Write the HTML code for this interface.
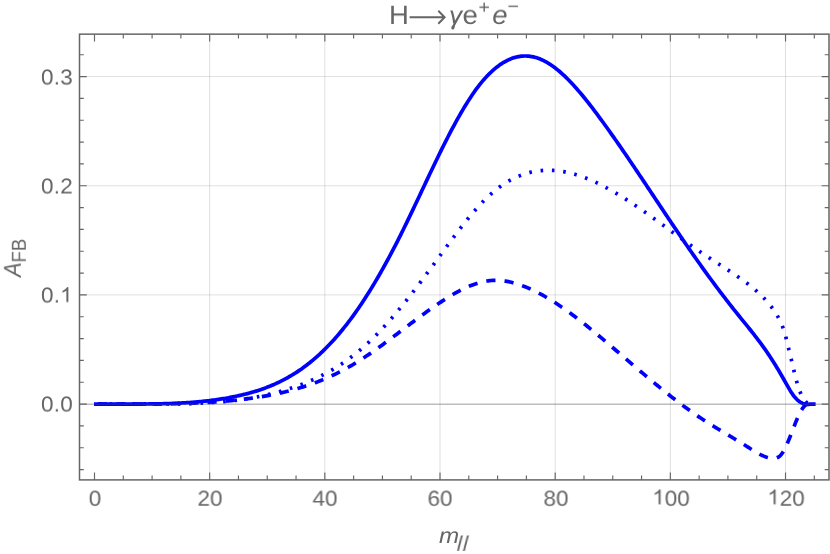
<!DOCTYPE html><html><head><meta charset="utf-8"><title>chart</title><style>
html,body{margin:0;padding:0;background:#fff}
#c{position:relative;width:830px;height:554px;overflow:hidden;background:#fff;font-family:"Liberation Sans",sans-serif;color:#666666}
.t{position:absolute;white-space:nowrap;line-height:1;will-change:transform;text-rendering:geometricPrecision}
.xl{font-size:22.5px;transform:translateX(-50%) scaleY(0.96);top:488.1px}
.yl{font-size:22.5px;letter-spacing:0.25px;transform:translateY(-50%) scaleY(0.96);right:757.4px;text-align:right}
</style></head><body><div id="c">
<svg width="830" height="554" viewBox="0 0 830 554" style="position:absolute;left:0;top:0">
<rect width="830" height="554" fill="#fff"/>
<path d="M209.67 34.15 V479.9 M324.84 34.15 V479.9 M440.01 34.15 V479.9 M555.18 34.15 V479.9 M670.35 34.15 V479.9 M785.52 34.15 V479.9" stroke="#666" stroke-opacity="0.21" stroke-width="1" fill="none"/>
<path d="M79.5 404.10 H829.0 M79.5 294.92 H829.0 M79.5 185.74 H829.0 M79.5 76.56 H829.0" stroke="#666" stroke-opacity="0.2" stroke-width="1" fill="none"/>
<path d="M94.00 404.10 L95.94 404.10 L97.39 404.10 L98.83 404.10 L100.27 404.10 L101.71 404.10 L103.16 404.10 L104.60 404.10 L106.04 404.10 L107.48 404.10 L108.93 404.10 L110.37 404.09 L111.81 404.09 L113.25 404.09 L114.70 404.08 L116.14 404.08 L117.58 404.08 L119.02 404.08 L120.47 404.08 L121.91 404.07 L123.35 404.07 L124.79 404.07 L126.24 404.07 L127.68 404.07 L129.12 404.07 L130.56 404.07 L132.01 404.07 L133.45 404.07 L134.89 404.07 L136.33 404.07 L137.78 404.07 L139.22 404.07 L140.66 404.06 L142.10 404.06 L143.55 404.06 L144.99 404.05 L146.43 404.05 L147.87 404.04 L149.32 404.04 L150.76 404.03 L152.20 404.02 L153.64 404.01 L155.09 404.00 L156.53 403.99 L157.97 403.98 L159.41 403.96 L160.86 403.95 L162.30 403.93 L163.74 403.91 L165.18 403.89 L166.63 403.87 L168.07 403.85 L169.51 403.83 L170.95 403.80 L172.40 403.77 L173.84 403.74 L175.28 403.71 L176.72 403.68 L178.17 403.64 L179.61 403.61 L181.05 403.57 L182.49 403.53 L183.94 403.49 L185.38 403.44 L186.82 403.39 L188.26 403.34 L189.71 403.29 L191.15 403.24 L192.59 403.18 L194.03 403.12 L195.48 403.06 L196.92 403.00 L198.36 402.93 L199.80 402.86 L201.25 402.79 L202.69 402.71 L204.13 402.64 L205.57 402.55 L207.02 402.47 L208.46 402.38 L209.90 402.29 L211.34 402.20 L212.79 402.11 L214.23 402.01 L215.67 401.90 L217.11 401.80 L218.56 401.69 L220.00 401.58 L221.44 401.46 L222.88 401.34 L224.33 401.22 L225.77 401.09 L227.21 400.96 L228.65 400.83 L230.10 400.69 L231.54 400.55 L232.98 400.40 L234.42 400.25 L235.87 400.10 L237.31 399.94 L238.75 399.78 L240.19 399.61 L241.64 399.44 L243.08 399.27 L244.52 399.09 L245.96 398.91 L247.41 398.72 L248.85 398.53 L250.29 398.33 L251.73 398.13 L253.18 397.93 L254.62 397.72 L256.06 397.50 L257.50 397.28 L258.95 397.05 L260.39 396.82 L261.83 396.59 L263.27 396.34 L264.72 396.09 L266.16 395.84 L267.60 395.58 L269.04 395.31 L270.49 395.04 L271.93 394.76 L273.37 394.47 L274.81 394.18 L276.26 393.88 L277.70 393.57 L279.14 393.26 L280.58 392.93 L282.03 392.61 L283.47 392.27 L284.91 391.93 L286.35 391.57 L287.80 391.21 L289.24 390.85 L290.68 390.47 L292.12 390.09 L293.57 389.69 L295.01 389.29 L296.45 388.88 L297.89 388.46 L299.34 388.03 L300.78 387.60 L302.22 387.15 L303.66 386.70 L305.11 386.23 L306.55 385.76 L307.99 385.27 L309.43 384.78 L310.88 384.28 L312.32 383.76 L313.76 383.24 L315.20 382.70 L316.65 382.16 L318.09 381.60 L319.53 381.04 L320.97 380.46 L322.42 379.87 L323.86 379.27 L325.30 378.66 L326.74 378.04 L328.19 377.41 L329.63 376.76 L331.07 376.10 L332.51 375.43 L333.96 374.75 L335.40 374.06 L336.84 373.36 L338.28 372.64 L339.73 371.91 L341.17 371.17 L342.61 370.41 L344.05 369.64 L345.50 368.86 L346.94 368.07 L348.38 367.26 L349.82 366.44 L351.27 365.60 L352.71 364.75 L354.15 363.89 L355.59 363.01 L357.04 362.13 L358.48 361.23 L359.92 360.31 L361.36 359.39 L362.81 358.45 L364.25 357.51 L365.69 356.55 L367.13 355.58 L368.58 354.61 L370.02 353.62 L371.46 352.63 L372.90 351.63 L374.35 350.61 L375.79 349.60 L377.23 348.57 L378.67 347.54 L380.12 346.50 L381.56 345.45 L383.00 344.40 L384.44 343.34 L385.89 342.28 L387.33 341.22 L388.77 340.15 L390.21 339.07 L391.66 337.99 L393.10 336.91 L394.54 335.83 L395.98 334.74 L397.43 333.66 L398.87 332.57 L400.31 331.48 L401.75 330.39 L403.20 329.30 L404.64 328.21 L406.08 327.12 L407.52 326.03 L408.97 324.94 L410.41 323.85 L411.85 322.77 L413.29 321.68 L414.74 320.60 L416.18 319.53 L417.62 318.46 L419.06 317.39 L420.51 316.32 L421.95 315.26 L423.39 314.21 L424.83 313.16 L426.28 312.12 L427.72 311.08 L429.16 310.05 L430.60 309.03 L432.05 308.01 L433.49 307.01 L434.93 306.01 L436.37 305.02 L437.82 304.03 L439.26 303.06 L440.70 302.10 L442.14 301.15 L443.59 300.21 L445.03 299.28 L446.47 298.36 L447.91 297.46 L449.36 296.57 L450.80 295.70 L452.24 294.84 L453.68 294.00 L455.13 293.17 L456.57 292.37 L458.01 291.58 L459.46 290.81 L460.90 290.06 L462.34 289.34 L463.78 288.64 L465.23 287.96 L466.67 287.30 L468.11 286.67 L469.55 286.06 L471.00 285.48 L472.44 284.92 L473.88 284.40 L475.32 283.90 L476.77 283.43 L478.21 282.99 L479.65 282.58 L481.09 282.21 L482.54 281.86 L483.98 281.55 L485.42 281.28 L486.86 281.03 L488.31 280.83 L489.75 280.66 L491.19 280.52 L492.63 280.43 L494.08 280.37 L495.52 280.35 L496.96 280.36 L498.40 280.41 L499.85 280.50 L501.29 280.61 L502.73 280.77 L504.17 280.95 L505.62 281.16 L507.06 281.41 L508.50 281.68 L509.94 281.98 L511.39 282.32 L512.83 282.68 L514.27 283.06 L515.71 283.48 L517.16 283.91 L518.60 284.38 L520.04 284.87 L521.48 285.38 L522.93 285.91 L524.37 286.47 L525.81 287.04 L527.25 287.64 L528.70 288.26 L530.14 288.89 L531.58 289.55 L533.02 290.22 L534.47 290.91 L535.91 291.62 L537.35 292.35 L538.79 293.10 L540.24 293.86 L541.68 294.64 L543.12 295.44 L544.56 296.25 L546.01 297.08 L547.45 297.93 L548.89 298.79 L550.33 299.66 L551.78 300.55 L553.22 301.46 L554.66 302.38 L556.10 303.31 L557.55 304.26 L558.99 305.22 L560.43 306.19 L561.87 307.18 L563.32 308.18 L564.76 309.19 L566.20 310.21 L567.64 311.24 L569.09 312.29 L570.53 313.34 L571.97 314.41 L573.41 315.48 L574.86 316.57 L576.30 317.66 L577.74 318.77 L579.18 319.88 L580.63 321.00 L582.07 322.14 L583.51 323.27 L584.95 324.42 L586.40 325.57 L587.84 326.74 L589.28 327.90 L590.72 329.08 L592.17 330.26 L593.61 331.44 L595.05 332.64 L596.49 333.83 L597.94 335.04 L599.38 336.24 L600.82 337.45 L602.26 338.67 L603.71 339.89 L605.15 341.11 L606.59 342.34 L608.03 343.57 L609.48 344.80 L610.92 346.03 L612.36 347.26 L613.80 348.50 L615.25 349.74 L616.69 350.98 L618.13 352.22 L619.57 353.46 L621.02 354.70 L622.46 355.94 L623.90 357.18 L625.34 358.42 L626.79 359.66 L628.23 360.90 L629.67 362.14 L631.11 363.37 L632.56 364.61 L634.00 365.84 L635.44 367.08 L636.88 368.31 L638.33 369.54 L639.77 370.76 L641.21 371.99 L642.65 373.21 L644.10 374.43 L645.54 375.65 L646.98 376.86 L648.42 378.07 L649.87 379.28 L651.31 380.48 L652.75 381.68 L654.19 382.87 L655.64 384.06 L657.08 385.25 L658.52 386.43 L659.96 387.61 L661.41 388.78 L662.85 389.95 L664.29 391.11 L665.73 392.26 L667.18 393.41 L668.62 394.56 L670.06 395.69 L671.50 396.83 L672.95 397.95 L674.39 399.07 L675.83 400.18 L677.27 401.28 L678.72 402.38 L680.16 403.47 L681.60 404.55 L683.04 405.62 L684.49 406.69 L685.93 407.74 L687.37 408.79 L688.81 409.83 L690.26 410.86 L691.70 411.89 L693.14 412.90 L694.58 413.90 L696.03 414.90 L697.47 415.88 L698.91 416.85 L700.35 417.82 L701.80 418.77 L703.24 419.71 L704.68 420.65 L706.12 421.57 L707.57 422.49 L709.01 423.40 L710.45 424.30 L711.89 425.20 L713.34 426.08 L714.78 426.97 L716.22 427.85 L717.66 428.72 L719.11 429.59 L720.55 430.46 L721.99 431.33 L723.43 432.19 L724.88 433.05 L726.32 433.91 L727.76 434.77 L729.20 435.63 L730.65 436.50 L732.09 437.36 L733.53 438.23 L734.97 439.09 L736.42 439.97 L737.86 440.84 L739.30 441.72 L740.74 442.61 L742.19 443.50 L743.63 444.39 L745.07 445.30 L746.51 446.21 L747.96 447.13 L749.40 448.05 L750.84 448.97 L752.28 449.89 L753.73 450.79 L755.17 451.66 L756.61 452.52 L758.05 453.33 L759.50 454.11 L760.94 454.84 L762.38 455.52 L763.82 456.14 L765.27 456.70 L766.71 457.18 L768.15 457.58 L769.59 457.90 L771.04 458.12 L772.48 458.25 L773.92 458.28 L775.36 458.16 L776.81 457.83 L778.25 457.20 L779.69 456.19 L781.13 454.72 L782.58 452.75 L784.02 450.32 L785.46 447.51 L786.90 444.39 L788.35 441.01 L789.79 437.45 L791.23 433.76 L792.67 430.03 L794.12 426.31 L795.56 422.68 L797.00 419.19 L798.44 415.91 L799.89 412.92 L801.33 410.28 L802.77 408.05 L804.21 406.29 L805.66 404.99 L807.10 404.10 L808.54 403.58 L809.98 404.10 L811.43 404.10 L812.87 404.10 L815.61 404.10" stroke="#0000ff" stroke-width="3.7" fill="none" stroke-dasharray="9.2 9.049523893575035" stroke-dashoffset="14.27" stroke-linejoin="round"/>
<path d="M94.00 404.10 L95.94 404.10 L97.39 404.10 L98.83 404.10 L100.27 404.10 L101.71 404.10 L103.16 404.10 L104.60 404.10 L106.04 404.10 L107.48 404.09 L108.93 404.08 L110.37 404.07 L111.81 404.05 L113.25 404.03 L114.70 404.02 L116.14 404.00 L117.58 403.98 L119.02 403.96 L120.47 403.94 L121.91 403.92 L123.35 403.91 L124.79 403.89 L126.24 403.87 L127.68 403.86 L129.12 403.85 L130.56 403.85 L132.01 403.85 L133.45 403.86 L134.89 403.86 L136.33 403.87 L137.78 403.88 L139.22 403.88 L140.66 403.89 L142.10 403.90 L143.55 403.91 L144.99 403.91 L146.43 403.92 L147.87 403.93 L149.32 403.93 L150.76 403.94 L152.20 403.94 L153.64 403.95 L155.09 403.95 L156.53 403.96 L157.97 403.96 L159.41 403.96 L160.86 403.96 L162.30 403.96 L163.74 403.96 L165.18 403.96 L166.63 403.95 L168.07 403.95 L169.51 403.94 L170.95 403.93 L172.40 403.92 L173.84 403.91 L175.28 403.89 L176.72 403.88 L178.17 403.86 L179.61 403.84 L181.05 403.81 L182.49 403.79 L183.94 403.76 L185.38 403.73 L186.82 403.69 L188.26 403.66 L189.71 403.62 L191.15 403.58 L192.59 403.53 L194.03 403.48 L195.48 403.43 L196.92 403.38 L198.36 403.32 L199.80 403.26 L201.25 403.19 L202.69 403.12 L204.13 403.05 L205.57 402.97 L207.02 402.89 L208.46 402.80 L209.90 402.72 L211.34 402.62 L212.79 402.52 L214.23 402.42 L215.67 402.32 L217.11 402.20 L218.56 402.09 L220.00 401.97 L221.44 401.84 L222.88 401.71 L224.33 401.57 L225.77 401.43 L227.21 401.29 L228.65 401.14 L230.10 400.98 L231.54 400.82 L232.98 400.65 L234.42 400.47 L235.87 400.29 L237.31 400.11 L238.75 399.92 L240.19 399.72 L241.64 399.52 L243.08 399.31 L244.52 399.09 L245.96 398.87 L247.41 398.64 L248.85 398.40 L250.29 398.16 L251.73 397.91 L253.18 397.65 L254.62 397.39 L256.06 397.12 L257.50 396.84 L258.95 396.55 L260.39 396.26 L261.83 395.96 L263.27 395.65 L264.72 395.34 L266.16 395.02 L267.60 394.69 L269.04 394.35 L270.49 394.00 L271.93 393.65 L273.37 393.28 L274.81 392.91 L276.26 392.53 L277.70 392.14 L279.14 391.75 L280.58 391.34 L282.03 390.93 L283.47 390.51 L284.91 390.07 L286.35 389.63 L287.80 389.18 L289.24 388.72 L290.68 388.26 L292.12 387.78 L293.57 387.29 L295.01 386.79 L296.45 386.29 L297.89 385.77 L299.34 385.24 L300.78 384.70 L302.22 384.15 L303.66 383.59 L305.11 383.02 L306.55 382.43 L307.99 381.84 L309.43 381.23 L310.88 380.60 L312.32 379.97 L313.76 379.32 L315.20 378.66 L316.65 377.99 L318.09 377.30 L319.53 376.59 L320.97 375.88 L322.42 375.14 L323.86 374.40 L325.30 373.64 L326.74 372.86 L328.19 372.06 L329.63 371.26 L331.07 370.43 L332.51 369.59 L333.96 368.73 L335.40 367.85 L336.84 366.96 L338.28 366.05 L339.73 365.12 L341.17 364.18 L342.61 363.21 L344.05 362.23 L345.50 361.23 L346.94 360.21 L348.38 359.17 L349.82 358.11 L351.27 357.03 L352.71 355.93 L354.15 354.81 L355.59 353.67 L357.04 352.51 L358.48 351.33 L359.92 350.12 L361.36 348.90 L362.81 347.65 L364.25 346.38 L365.69 345.09 L367.13 343.78 L368.58 342.44 L370.02 341.08 L371.46 339.70 L372.90 338.30 L374.35 336.87 L375.79 335.42 L377.23 333.95 L378.67 332.46 L380.12 330.95 L381.56 329.42 L383.00 327.87 L384.44 326.31 L385.89 324.72 L387.33 323.11 L388.77 321.49 L390.21 319.85 L391.66 318.19 L393.10 316.52 L394.54 314.83 L395.98 313.13 L397.43 311.41 L398.87 309.67 L400.31 307.92 L401.75 306.16 L403.20 304.38 L404.64 302.59 L406.08 300.78 L407.52 298.97 L408.97 297.14 L410.41 295.30 L411.85 293.45 L413.29 291.59 L414.74 289.71 L416.18 287.83 L417.62 285.94 L419.06 284.04 L420.51 282.13 L421.95 280.21 L423.39 278.29 L424.83 276.35 L426.28 274.41 L427.72 272.47 L429.16 270.51 L430.60 268.56 L432.05 266.59 L433.49 264.62 L434.93 262.65 L436.37 260.67 L437.82 258.69 L439.26 256.71 L440.70 254.73 L442.14 252.75 L443.59 250.77 L445.03 248.79 L446.47 246.82 L447.91 244.85 L449.36 242.89 L450.80 240.93 L452.24 238.99 L453.68 237.05 L455.13 235.13 L456.57 233.22 L458.01 231.32 L459.46 229.43 L460.90 227.56 L462.34 225.71 L463.78 223.87 L465.23 222.05 L466.67 220.25 L468.11 218.47 L469.55 216.72 L471.00 214.99 L472.44 213.28 L473.88 211.59 L475.32 209.94 L476.77 208.31 L478.21 206.71 L479.65 205.14 L481.09 203.60 L482.54 202.09 L483.98 200.61 L485.42 199.17 L486.86 197.77 L488.31 196.40 L489.75 195.07 L491.19 193.78 L492.63 192.52 L494.08 191.31 L495.52 190.13 L496.96 188.99 L498.40 187.88 L499.85 186.82 L501.29 185.79 L502.73 184.80 L504.17 183.84 L505.62 182.92 L507.06 182.03 L508.50 181.18 L509.94 180.36 L511.39 179.58 L512.83 178.84 L514.27 178.12 L515.71 177.44 L517.16 176.79 L518.60 176.18 L520.04 175.60 L521.48 175.05 L522.93 174.53 L524.37 174.04 L525.81 173.59 L527.25 173.16 L528.70 172.77 L530.14 172.40 L531.58 172.07 L533.02 171.76 L534.47 171.49 L535.91 171.24 L537.35 171.02 L538.79 170.83 L540.24 170.67 L541.68 170.54 L543.12 170.43 L544.56 170.35 L546.01 170.30 L547.45 170.27 L548.89 170.27 L550.33 170.29 L551.78 170.34 L553.22 170.42 L554.66 170.52 L556.10 170.64 L557.55 170.79 L558.99 170.96 L560.43 171.15 L561.87 171.37 L563.32 171.61 L564.76 171.88 L566.20 172.16 L567.64 172.47 L569.09 172.80 L570.53 173.15 L571.97 173.52 L573.41 173.91 L574.86 174.32 L576.30 174.75 L577.74 175.20 L579.18 175.67 L580.63 176.16 L582.07 176.66 L583.51 177.19 L584.95 177.73 L586.40 178.29 L587.84 178.87 L589.28 179.46 L590.72 180.07 L592.17 180.70 L593.61 181.34 L595.05 182.00 L596.49 182.68 L597.94 183.36 L599.38 184.07 L600.82 184.79 L602.26 185.52 L603.71 186.27 L605.15 187.03 L606.59 187.80 L608.03 188.59 L609.48 189.39 L610.92 190.20 L612.36 191.02 L613.80 191.86 L615.25 192.70 L616.69 193.56 L618.13 194.43 L619.57 195.31 L621.02 196.20 L622.46 197.10 L623.90 198.00 L625.34 198.92 L626.79 199.85 L628.23 200.79 L629.67 201.73 L631.11 202.68 L632.56 203.64 L634.00 204.61 L635.44 205.58 L636.88 206.57 L638.33 207.55 L639.77 208.55 L641.21 209.55 L642.65 210.55 L644.10 211.56 L645.54 212.58 L646.98 213.60 L648.42 214.63 L649.87 215.66 L651.31 216.69 L652.75 217.73 L654.19 218.77 L655.64 219.81 L657.08 220.85 L658.52 221.90 L659.96 222.95 L661.41 224.00 L662.85 225.06 L664.29 226.11 L665.73 227.16 L667.18 228.22 L668.62 229.27 L670.06 230.33 L671.50 231.38 L672.95 232.44 L674.39 233.49 L675.83 234.54 L677.27 235.59 L678.72 236.64 L680.16 237.68 L681.60 238.73 L683.04 239.77 L684.49 240.80 L685.93 241.84 L687.37 242.87 L688.81 243.89 L690.26 244.91 L691.70 245.93 L693.14 246.94 L694.58 247.95 L696.03 248.95 L697.47 249.94 L698.91 250.93 L700.35 251.91 L701.80 252.89 L703.24 253.85 L704.68 254.82 L706.12 255.77 L707.57 256.72 L709.01 257.67 L710.45 258.62 L711.89 259.56 L713.34 260.50 L714.78 261.43 L716.22 262.37 L717.66 263.30 L719.11 264.24 L720.55 265.18 L721.99 266.11 L723.43 267.05 L724.88 267.99 L726.32 268.94 L727.76 269.89 L729.20 270.84 L730.65 271.80 L732.09 272.76 L733.53 273.73 L734.97 274.70 L736.42 275.68 L737.86 276.67 L739.30 277.67 L740.74 278.68 L742.19 279.70 L743.63 280.74 L745.07 281.79 L746.51 282.86 L747.96 283.96 L749.40 285.08 L750.84 286.22 L752.28 287.39 L753.73 288.59 L755.17 289.83 L756.61 291.10 L758.05 292.41 L759.50 293.76 L760.94 295.15 L762.38 296.58 L763.82 298.06 L765.27 299.59 L766.71 301.17 L768.15 302.82 L769.59 304.56 L771.04 306.38 L772.48 308.32 L773.92 310.38 L775.36 312.57 L776.81 314.90 L778.25 317.40 L779.69 320.10 L781.13 323.13 L782.58 326.62 L784.02 330.71 L785.46 335.53 L786.90 341.19 L788.35 347.35 L789.79 353.29 L791.23 359.16 L792.67 365.29 L794.12 371.47 L795.56 377.42 L797.00 382.85 L798.44 387.55 L799.89 391.57 L801.33 394.95 L802.77 397.72 L804.21 399.95 L805.66 401.67 L807.10 402.94 L808.54 403.79 L809.98 404.10 L811.43 404.10 L812.87 404.10 L815.61 404.10" stroke="#0000ff" stroke-width="3.7" fill="none" stroke-dasharray="2.6 8.751033861102023" stroke-dashoffset="7.03" stroke-linejoin="round"/>
<path d="M94.00 404.10 L95.94 404.10 L97.39 404.10 L98.83 404.10 L100.27 404.10 L101.71 404.10 L103.16 404.10 L104.60 404.10 L106.04 404.10 L107.48 404.10 L108.93 404.09 L110.37 404.09 L111.81 404.08 L113.25 404.08 L114.70 404.07 L116.14 404.07 L117.58 404.06 L119.02 404.06 L120.47 404.05 L121.91 404.05 L123.35 404.05 L124.79 404.05 L126.24 404.04 L127.68 404.04 L129.12 404.04 L130.56 404.04 L132.01 404.04 L133.45 404.04 L134.89 404.04 L136.33 404.04 L137.78 404.03 L139.22 404.03 L140.66 404.02 L142.10 404.02 L143.55 404.01 L144.99 404.00 L146.43 403.99 L147.87 403.98 L149.32 403.97 L150.76 403.95 L152.20 403.93 L153.64 403.91 L155.09 403.89 L156.53 403.87 L157.97 403.84 L159.41 403.82 L160.86 403.79 L162.30 403.75 L163.74 403.72 L165.18 403.68 L166.63 403.64 L168.07 403.59 L169.51 403.54 L170.95 403.49 L172.40 403.44 L173.84 403.38 L175.28 403.32 L176.72 403.25 L178.17 403.19 L179.61 403.11 L181.05 403.04 L182.49 402.96 L183.94 402.87 L185.38 402.79 L186.82 402.69 L188.26 402.60 L189.71 402.49 L191.15 402.39 L192.59 402.28 L194.03 402.16 L195.48 402.04 L196.92 401.92 L198.36 401.79 L199.80 401.65 L201.25 401.51 L202.69 401.36 L204.13 401.21 L205.57 401.06 L207.02 400.89 L208.46 400.72 L209.90 400.55 L211.34 400.37 L212.79 400.18 L214.23 399.99 L215.67 399.79 L217.11 399.59 L218.56 399.37 L220.00 399.15 L221.44 398.93 L222.88 398.70 L224.33 398.46 L225.77 398.21 L227.21 397.96 L228.65 397.70 L230.10 397.43 L231.54 397.16 L232.98 396.88 L234.42 396.59 L235.87 396.29 L237.31 395.99 L238.75 395.67 L240.19 395.35 L241.64 395.02 L243.08 394.67 L244.52 394.32 L245.96 393.96 L247.41 393.59 L248.85 393.21 L250.29 392.81 L251.73 392.40 L253.18 391.99 L254.62 391.56 L256.06 391.11 L257.50 390.66 L258.95 390.19 L260.39 389.71 L261.83 389.21 L263.27 388.70 L264.72 388.18 L266.16 387.64 L267.60 387.09 L269.04 386.52 L270.49 385.93 L271.93 385.33 L273.37 384.71 L274.81 384.08 L276.26 383.42 L277.70 382.76 L279.14 382.07 L280.58 381.36 L282.03 380.64 L283.47 379.90 L284.91 379.14 L286.35 378.35 L287.80 377.55 L289.24 376.73 L290.68 375.89 L292.12 375.03 L293.57 374.15 L295.01 373.24 L296.45 372.32 L297.89 371.37 L299.34 370.40 L300.78 369.40 L302.22 368.39 L303.66 367.35 L305.11 366.28 L306.55 365.20 L307.99 364.08 L309.43 362.95 L310.88 361.79 L312.32 360.60 L313.76 359.39 L315.20 358.15 L316.65 356.88 L318.09 355.59 L319.53 354.28 L320.97 352.93 L322.42 351.56 L323.86 350.17 L325.30 348.74 L326.74 347.29 L328.19 345.81 L329.63 344.31 L331.07 342.77 L332.51 341.21 L333.96 339.63 L335.40 338.01 L336.84 336.36 L338.28 334.69 L339.73 332.99 L341.17 331.26 L342.61 329.50 L344.05 327.71 L345.50 325.89 L346.94 324.04 L348.38 322.17 L349.82 320.26 L351.27 318.33 L352.71 316.36 L354.15 314.36 L355.59 312.34 L357.04 310.28 L358.48 308.20 L359.92 306.08 L361.36 303.94 L362.81 301.76 L364.25 299.56 L365.69 297.33 L367.13 295.07 L368.58 292.78 L370.02 290.46 L371.46 288.11 L372.90 285.74 L374.35 283.34 L375.79 280.91 L377.23 278.45 L378.67 275.97 L380.12 273.46 L381.56 270.92 L383.00 268.35 L384.44 265.76 L385.89 263.15 L387.33 260.50 L388.77 257.83 L390.21 255.14 L391.66 252.41 L393.10 249.67 L394.54 246.90 L395.98 244.10 L397.43 241.28 L398.87 238.43 L400.31 235.56 L401.75 232.66 L403.20 229.75 L404.64 226.81 L406.08 223.85 L407.52 220.88 L408.97 217.89 L410.41 214.89 L411.85 211.88 L413.29 208.85 L414.74 205.82 L416.18 202.77 L417.62 199.73 L419.06 196.67 L420.51 193.62 L421.95 190.56 L423.39 187.50 L424.83 184.44 L426.28 181.39 L427.72 178.34 L429.16 175.30 L430.60 172.26 L432.05 169.23 L433.49 166.22 L434.93 163.22 L436.37 160.23 L437.82 157.25 L439.26 154.30 L440.70 151.36 L442.14 148.44 L443.59 145.54 L445.03 142.67 L446.47 139.82 L447.91 137.00 L449.36 134.21 L450.80 131.44 L452.24 128.71 L453.68 126.01 L455.13 123.34 L456.57 120.71 L458.01 118.11 L459.46 115.56 L460.90 113.04 L462.34 110.57 L463.78 108.14 L465.23 105.75 L466.67 103.41 L468.11 101.12 L469.55 98.88 L471.00 96.69 L472.44 94.55 L473.88 92.47 L475.32 90.44 L476.77 88.47 L478.21 86.55 L479.65 84.70 L481.09 82.91 L482.54 81.17 L483.98 79.49 L485.42 77.87 L486.86 76.31 L488.31 74.80 L489.75 73.35 L491.19 71.97 L492.63 70.64 L494.08 69.36 L495.52 68.15 L496.96 66.99 L498.40 65.90 L499.85 64.86 L501.29 63.87 L502.73 62.95 L504.17 62.08 L505.62 61.27 L507.06 60.52 L508.50 59.83 L509.94 59.19 L511.39 58.61 L512.83 58.09 L514.27 57.63 L515.71 57.22 L517.16 56.88 L518.60 56.59 L520.04 56.35 L521.48 56.18 L522.93 56.06 L524.37 56.00 L525.81 55.99 L527.25 56.04 L528.70 56.15 L530.14 56.32 L531.58 56.55 L533.02 56.83 L534.47 57.17 L535.91 57.56 L537.35 58.01 L538.79 58.52 L540.24 59.09 L541.68 59.71 L543.12 60.38 L544.56 61.11 L546.01 61.88 L547.45 62.71 L548.89 63.59 L550.33 64.51 L551.78 65.49 L553.22 66.51 L554.66 67.57 L556.10 68.68 L557.55 69.83 L558.99 71.03 L560.43 72.26 L561.87 73.54 L563.32 74.85 L564.76 76.21 L566.20 77.60 L567.64 79.02 L569.09 80.48 L570.53 81.97 L571.97 83.50 L573.41 85.06 L574.86 86.65 L576.30 88.27 L577.74 89.91 L579.18 91.59 L580.63 93.29 L582.07 95.02 L583.51 96.77 L584.95 98.54 L586.40 100.34 L587.84 102.15 L589.28 103.99 L590.72 105.85 L592.17 107.72 L593.61 109.61 L595.05 111.52 L596.49 113.44 L597.94 115.38 L599.38 117.33 L600.82 119.29 L602.26 121.26 L603.71 123.25 L605.15 125.24 L606.59 127.24 L608.03 129.25 L609.48 131.28 L610.92 133.31 L612.36 135.35 L613.80 137.40 L615.25 139.45 L616.69 141.52 L618.13 143.59 L619.57 145.67 L621.02 147.76 L622.46 149.85 L623.90 151.95 L625.34 154.06 L626.79 156.17 L628.23 158.29 L629.67 160.42 L631.11 162.55 L632.56 164.68 L634.00 166.82 L635.44 168.96 L636.88 171.10 L638.33 173.25 L639.77 175.41 L641.21 177.56 L642.65 179.72 L644.10 181.88 L645.54 184.04 L646.98 186.21 L648.42 188.37 L649.87 190.54 L651.31 192.71 L652.75 194.87 L654.19 197.04 L655.64 199.21 L657.08 201.38 L658.52 203.55 L659.96 205.71 L661.41 207.88 L662.85 210.04 L664.29 212.20 L665.73 214.36 L667.18 216.52 L668.62 218.67 L670.06 220.83 L671.50 222.97 L672.95 225.12 L674.39 227.26 L675.83 229.39 L677.27 231.53 L678.72 233.65 L680.16 235.78 L681.60 237.89 L683.04 240.00 L684.49 242.11 L685.93 244.21 L687.37 246.30 L688.81 248.38 L690.26 250.46 L691.70 252.53 L693.14 254.59 L694.58 256.65 L696.03 258.70 L697.47 260.74 L698.91 262.78 L700.35 264.80 L701.80 266.82 L703.24 268.84 L704.68 270.84 L706.12 272.83 L707.57 274.82 L709.01 276.80 L710.45 278.77 L711.89 280.73 L713.34 282.69 L714.78 284.63 L716.22 286.57 L717.66 288.50 L719.11 290.41 L720.55 292.32 L721.99 294.22 L723.43 296.11 L724.88 297.99 L726.32 299.87 L727.76 301.73 L729.20 303.58 L730.65 305.42 L732.09 307.26 L733.53 309.08 L734.97 310.89 L736.42 312.69 L737.86 314.49 L739.30 316.27 L740.74 318.05 L742.19 319.82 L743.63 321.60 L745.07 323.37 L746.51 325.15 L747.96 326.94 L749.40 328.73 L750.84 330.53 L752.28 332.35 L753.73 334.18 L755.17 336.03 L756.61 337.90 L758.05 339.79 L759.50 341.71 L760.94 343.66 L762.38 345.63 L763.82 347.64 L765.27 349.68 L766.71 351.76 L768.15 353.87 L769.59 356.03 L771.04 358.23 L772.48 360.46 L773.92 362.74 L775.36 365.05 L776.81 367.41 L778.25 369.80 L779.69 372.24 L781.13 374.71 L782.58 377.22 L784.02 379.77 L785.46 382.35 L786.90 384.91 L788.35 387.43 L789.79 389.87 L791.23 392.18 L792.67 394.34 L794.12 396.31 L795.56 398.05 L797.00 399.55 L798.44 400.83 L799.89 401.89 L801.33 402.74 L802.77 403.39 L804.21 403.87 L805.66 404.17 L807.10 404.32 L808.54 404.36 L809.98 404.10 L811.43 404.10 L812.87 404.10 L815.61 404.10" stroke="#0000ff" stroke-width="3.7" fill="none" stroke-linejoin="round" stroke-linecap="butt"/>
<path d="M79.5 404.20 H829.0" stroke="#555" stroke-opacity="0.62" stroke-width="0.7" fill="none"/>
<path d="M94.50 479.9 v-7.3 M94.50 34.15 v7.3 M123.29 479.9 v-4.3 M123.29 34.15 v4.3 M152.08 479.9 v-4.3 M152.08 34.15 v4.3 M180.88 479.9 v-4.3 M180.88 34.15 v4.3 M209.67 479.9 v-7.3 M209.67 34.15 v7.3 M238.46 479.9 v-4.3 M238.46 34.15 v4.3 M267.25 479.9 v-4.3 M267.25 34.15 v4.3 M296.05 479.9 v-4.3 M296.05 34.15 v4.3 M324.84 479.9 v-7.3 M324.84 34.15 v7.3 M353.63 479.9 v-4.3 M353.63 34.15 v4.3 M382.43 479.9 v-4.3 M382.43 34.15 v4.3 M411.22 479.9 v-4.3 M411.22 34.15 v4.3 M440.01 479.9 v-7.3 M440.01 34.15 v7.3 M468.80 479.9 v-4.3 M468.80 34.15 v4.3 M497.59 479.9 v-4.3 M497.59 34.15 v4.3 M526.39 479.9 v-4.3 M526.39 34.15 v4.3 M555.18 479.9 v-7.3 M555.18 34.15 v7.3 M583.97 479.9 v-4.3 M583.97 34.15 v4.3 M612.76 479.9 v-4.3 M612.76 34.15 v4.3 M641.56 479.9 v-4.3 M641.56 34.15 v4.3 M670.35 479.9 v-7.3 M670.35 34.15 v7.3 M699.14 479.9 v-4.3 M699.14 34.15 v4.3 M727.93 479.9 v-4.3 M727.93 34.15 v4.3 M756.73 479.9 v-4.3 M756.73 34.15 v4.3 M785.52 479.9 v-7.3 M785.52 34.15 v7.3 M814.31 479.9 v-4.3 M814.31 34.15 v4.3 M79.5 469.61 h4.3 M829.0 469.61 h-4.3 M79.5 447.77 h4.3 M829.0 447.77 h-4.3 M79.5 425.94 h4.3 M829.0 425.94 h-4.3 M79.5 404.10 h7.3 M829.0 404.10 h-7.3 M79.5 382.26 h4.3 M829.0 382.26 h-4.3 M79.5 360.43 h4.3 M829.0 360.43 h-4.3 M79.5 338.59 h4.3 M829.0 338.59 h-4.3 M79.5 316.76 h4.3 M829.0 316.76 h-4.3 M79.5 294.92 h7.3 M829.0 294.92 h-7.3 M79.5 273.08 h4.3 M829.0 273.08 h-4.3 M79.5 251.25 h4.3 M829.0 251.25 h-4.3 M79.5 229.41 h4.3 M829.0 229.41 h-4.3 M79.5 207.58 h4.3 M829.0 207.58 h-4.3 M79.5 185.74 h7.3 M829.0 185.74 h-7.3 M79.5 163.90 h4.3 M829.0 163.90 h-4.3 M79.5 142.07 h4.3 M829.0 142.07 h-4.3 M79.5 120.23 h4.3 M829.0 120.23 h-4.3 M79.5 98.40 h4.3 M829.0 98.40 h-4.3 M79.5 76.56 h7.3 M829.0 76.56 h-7.3 M79.5 54.72 h4.3 M829.0 54.72 h-4.3" stroke="#666666" stroke-width="1.15" fill="none"/>
<rect x="79.5" y="34.15" width="749.5" height="445.75" fill="none" stroke="#666666" stroke-width="1.5"/>
<path d="M409.6 17.2 H443.8 M438.3 10.7 L444.6 17.2 L438.3 23.7" stroke="#666666" stroke-width="2" fill="none" stroke-linejoin="miter"/>
<clipPath id="gc"><rect x="440" y="10.5" width="40" height="30"/></clipPath><path clip-path="url(#gc)" d="M451.0 9.6 C452.5 12.6 453.6 18.0 454.2 23.0 M462.6 9.5 L455.4 22.4 C453.9 25.0 453.2 26.6 453.0 28.0" stroke="#666666" stroke-width="2.2" fill="none" stroke-linecap="butt" stroke-linejoin="round"/>
<ellipse cx="452.9" cy="27.6" rx="1.55" ry="2.0" transform="rotate(20 452.9 27.6)" fill="#666666"/>
</svg>
<div class="t xl" style="left:94.9px">0</div>
<div class="t xl" style="left:210.1px">20</div>
<div class="t xl" style="left:325.2px">40</div>
<div class="t xl" style="left:440.4px">60</div>
<div class="t xl" style="left:555.6px">80</div>
<div class="t xl" style="left:670.8px"><svg viewBox="0 0 1139 1472" width="12.51" height="15.5" preserveAspectRatio="none" style="vertical-align:baseline;display:inline-block;overflow:visible;position:relative;top:-1.1px"><path fill="#666" d="M763 1472 L583 1472 L583 325 Q518 387 412.5 449 Q307 511 223 542 L223 368 Q374 297 487 196 Q600 95 647 0 L763 0 Z"/></svg>00</div>
<div class="t xl" style="left:785.9px"><svg viewBox="0 0 1139 1472" width="12.51" height="15.5" preserveAspectRatio="none" style="vertical-align:baseline;display:inline-block;overflow:visible;position:relative;top:-1.1px"><path fill="#666" d="M763 1472 L583 1472 L583 325 Q518 387 412.5 449 Q307 511 223 542 L223 368 Q374 297 487 196 Q600 95 647 0 L763 0 Z"/></svg>20</div>
<div class="t yl" style="top:405.2px">0.0</div>
<div class="t yl" style="top:296.0px">0.<svg viewBox="0 0 1139 1472" width="12.51" height="15.5" preserveAspectRatio="none" style="vertical-align:baseline;display:inline-block;overflow:visible;position:relative;top:-0.4px"><path fill="#666" d="M763 1472 L583 1472 L583 325 Q518 387 412.5 449 Q307 511 223 542 L223 368 Q374 297 487 196 Q600 95 647 0 L763 0 Z"/></svg></div>
<div class="t yl" style="top:186.8px">0.2</div>
<div class="t yl" style="top:77.7px">0.3</div>
<div class="t" style="left:389.3px;top:1.1px;font-size:27.5px;transform-origin:0 80%;transform:scaleY(0.96)">H</div>
<div class="t" style="left:448.8px;top:1.1px;font-size:27.5px;transform-origin:0 80%;transform:scaleY(0.96)"><span style="display:inline-block;width:13.75px"></span><span style="margin-left:-0.2px">e</span><span style="font-size:19.5px;position:relative;top:-11.2px;margin-left:0.6px">+</span><i style="margin-left:2.5px">e</i><span style="font-size:19.5px;position:relative;top:-11.6px;margin-left:-0.2px">&minus;</span></div>
<div class="t" style="left:438.8px;top:525.4px;font-size:22px;transform-origin:0 0;transform:scale(1.1,1)"><i>m</i></div>
<div class="t" style="left:456.8px;top:533.7px;font-size:21.5px;letter-spacing:1.1px;transform:skewX(-4deg)"><i>ll</i></div>
<div class="t" style="left:0.6px;top:277.3px;font-size:22.6px;transform-origin:0 0;transform:rotate(-90deg) scale(0.97,1.08)"><i>A</i><span style="font-size:19px;position:relative;top:5.2px;margin-left:0px">FB</span></div>
</div></body></html>
